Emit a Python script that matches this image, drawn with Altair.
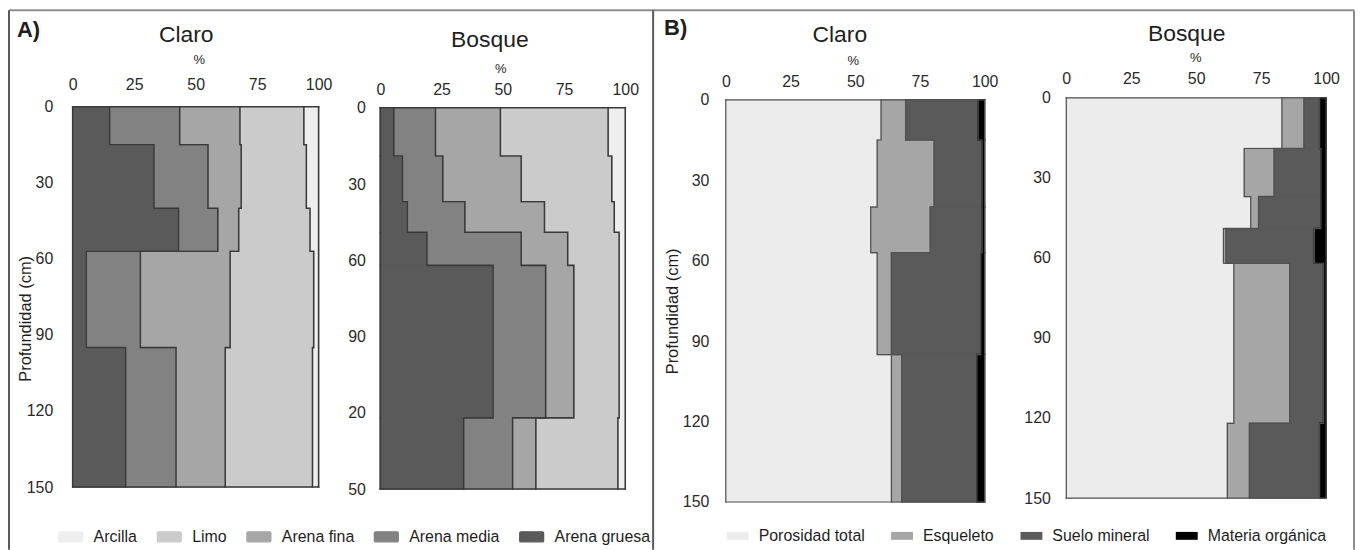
import altair as alt
import pandas as pd

FONT = "Liberation Sans"

# ---------------- A) granulometric fractions (%) ----------------
texture_comps = ["Arcilla", "Limo", "Arena fina", "Arena media", "Arena gruesa"]
texture_colors = ["#eeeeee", "#cbcbcb", "#a6a6a6", "#828282", "#5a5a5a"]

claro_depths_A = [0, 15, 40, 57, 95, 150]
claro_gruesa = [15, 33, 43, 5.5, 21.5]
claro_media = [28.5, 22, 16, 22, 20.5]
claro_fina = [24.5, 13.5, 8.5, 36.5, 20]
claro_limo = [26, 26.5, 29, 34, 35.5]
claro_arcilla = [6, 5, 3.5, 2, 2.5]

bosque_depths_A = [0, 19, 37, 49, 62, 122, 150]
bosque_gruesa = [5.5, 9, 11, 19, 46, 34]
bosque_media = [17, 16.5, 23.5, 38.5, 21.5, 20]
bosque_fina = [26.5, 32, 32.5, 19, 11.5, 9.5]
bosque_limo = [44, 37, 28.5, 21, 18.5, 33.5]
bosque_arcilla = [7, 5.5, 4.5, 2.5, 2.5, 3]

# ---------------- B) volumetric composition (%) ----------------
porosity_comps = ["Porosidad total", "Esqueleto", "Suelo mineral", "Materia orgánica"]
porosity_colors = ["#ececec", "#a6a6a6", "#5a5a5a", "#000000"]

claro_depths_B = [0, 15, 40, 57, 95, 150]
claro_poros = [60, 58.5, 56, 58.5, 64]
claro_esq = [9.5, 22, 23, 5.5, 4]
claro_suelo = [28, 18.5, 20, 34.5, 29]
claro_mo = [2.5, 1, 1, 1.5, 3]

bosque_depths_B = [0, 19, 37, 49, 62, 122, 150]
bosque_poros = [83, 68.5, 71, 60.5, 64.5, 62]
bosque_esq = [8.5, 11.5, 3, 1, 21.5, 8.5]
bosque_suelo = [6, 18, 24, 34, 13, 27]
bosque_mo = [2.5, 2, 2, 4.5, 1, 2.5]

x_ticks = [0, 25, 50, 75, 100]
y_ticks = [0, 30, 60, 90, 120, 150]
y_title = "Profundidad (cm)"
panel_letters = ["A)", "B)"]
site_titles = ["Claro", "Bosque"]
unit_label = "%"


def build_frames(depths, series):
    """Rect segments (one per component and horizon) and boundary step-lines."""
    n = len(depths) - 1
    rects, lines = [], []
    cum = [0.0] * n
    bounds = [list(cum)]
    for name, vals in series:
        nxt = [cum[i] + vals[i] for i in range(n)]
        for i in range(n):
            rects.append(dict(comp=name, x0=cum[i], x1=nxt[i], dtop=depths[i], dbot=depths[i + 1]))
        cum = nxt
        bounds.append(list(cum))
    for k, b in enumerate(bounds):
        for i in range(n):
            lines.append(dict(bid=f"b{k}", seq=2 * i, bx=b[i], depth=depths[i]))
            lines.append(dict(bid=f"b{k}", seq=2 * i + 1, bx=b[i], depth=depths[i + 1]))
    # top and bottom edges of the profile
    lines += [dict(bid="top", seq=0, bx=0, depth=depths[0]), dict(bid="top", seq=1, bx=100, depth=depths[0]),
              dict(bid="bot", seq=0, bx=0, depth=depths[-1]), dict(bid="bot", seq=1, bx=100, depth=depths[-1])]
    return pd.DataFrame(rects), pd.DataFrame(lines)


rA1, lA1 = build_frames(claro_depths_A, [("Arena gruesa", claro_gruesa), ("Arena media", claro_media),
                                         ("Arena fina", claro_fina), ("Limo", claro_limo), ("Arcilla", claro_arcilla)])
rA2, lA2 = build_frames(bosque_depths_A, [("Arena gruesa", bosque_gruesa), ("Arena media", bosque_media),
                                          ("Arena fina", bosque_fina), ("Limo", bosque_limo), ("Arcilla", bosque_arcilla)])
rB1, lB1 = build_frames(claro_depths_B, [("Porosidad total", claro_poros), ("Esqueleto", claro_esq),
                                         ("Suelo mineral", claro_suelo), ("Materia orgánica", claro_mo)])
rB2, lB2 = build_frames(bosque_depths_B, [("Porosidad total", bosque_poros), ("Esqueleto", bosque_esq),
                                          ("Suelo mineral", bosque_suelo), ("Materia orgánica", bosque_mo)])


def text_layer(label, x, y, size, weight="normal", align="center"):
    return alt.Chart(pd.DataFrame({"t": [label]})).mark_text(
        align=align, baseline="middle", fontSize=size, fontWeight=weight, font=FONT, color="#1e1e1e"
    ).encode(x=alt.value(x), y=alt.value(y), text="t:N")


def rule_layer(x, x2, y, y2, color, w):
    return alt.Chart(pd.DataFrame({"r": [0]})).mark_rule(color=color, strokeWidth=w).encode(
        x=alt.value(x), x2=alt.value(x2), y=alt.value(y), y2=alt.value(y2)
    )


def profile(rects, lines, comps, colors, xr, yr, x_pad, y_pad, stroke, sw, legend,
            title_pos=None, label_expr=None):
    xaxis = alt.Axis(orient="top", values=x_ticks, title=None, domain=False, ticks=False, tickSize=0,
                     labelPadding=x_pad, labelFlush=False, grid=False, labelFontSize=16)
    ykw = dict(values=y_ticks, domain=False, ticks=False, tickSize=0, labelPadding=y_pad,
               grid=False, labelFontSize=16, labelFlush=False)
    if title_pos is not None:
        ykw.update(title=y_title, titleX=title_pos[0], titleY=title_pos[1], titleAngle=270,
                   titleAlign="center", titleBaseline="middle", titleFontSize=16.5,
                   titleFontWeight="normal", titleColor="#1e1e1e")
    else:
        ykw.update(title=None)
    if label_expr is not None:
        ykw.update(labelExpr=label_expr)
    yaxis = alt.Axis(**ykw)
    xscale = alt.Scale(domain=[0, 100], range=xr, nice=False, zero=False)
    yscale = alt.Scale(domain=[0, 150], range=yr, nice=False, zero=False)
    cscale = alt.Scale(domain=comps, range=colors)
    color_kw = dict(scale=cscale)
    color_kw["legend"] = legend if legend is not None else None

    fill = alt.Chart(rects).mark_rect(strokeWidth=1.5).encode(
        x=alt.X("x0:Q", scale=xscale, axis=xaxis),
        x2="x1:Q",
        y=alt.Y("dtop:Q", scale=yscale, axis=yaxis),
        y2="dbot:Q",
        color=alt.Color("comp:N", **color_kw),
        stroke=alt.Stroke("comp:N", scale=cscale, legend=None),
    )
    edges = alt.Chart(lines).mark_line(color=stroke, strokeWidth=sw, strokeJoin="miter",
                                       strokeCap="square", interpolate="linear").encode(
        x=alt.X("bx:Q", scale=xscale, axis=xaxis),
        y=alt.Y("depth:Q", scale=yscale, axis=yaxis),
        detail="bid:N",
        order=alt.Order("seq:Q"),
    )
    return [fill, edges]


ROUNDED = ("M-0.9,-0.42H0.9Q1,-0.42 1,-0.32V0.32Q1,0.42 0.9,0.42H-0.9"
           "Q-1,0.42 -1,0.32V-0.32Q-1,-0.42 -0.9,-0.42Z")

legA = alt.Legend(orient="none", legendX=-15, legendY=426, direction="horizontal", columns=5, title=None,
                  symbolType=ROUNDED, symbolSize=576, symbolStrokeColor="#4a4a4a",
                  symbolStrokeWidth=1.3, labelFontSize=16, labelOffset=10, columnPadding=17,
                  labelColor="#1e1e1e", labelFont=FONT, symbolOpacity=1)
legB = alt.Legend(orient="none", legendX=1, legendY=427, direction="horizontal", columns=4, title=None,
                  symbolType="M-1,-0.36H1V0.36H-1Z", symbolSize=484, symbolStrokeWidth=0,
                  labelFontSize=16, labelOffset=10, columnPadding=26, labelColor="#1e1e1e",
                  labelFont=FONT, symbolOpacity=1)

H = 404
A_STROKE = "#3a3a3a"
B_STROKE = "#505050"

pA1 = alt.layer(
    rule_layer(-64, 1287, -90, -90, "#8c8c8c", 2),
    rule_layer(-64, -64, -90, 452, "#5a5a5a", 2),
    rule_layer(583, 583, -90, 452, "#5a5a5a", 2),
    rule_layer(1287, 1287, -90, 452, "#8c8c8c", 2),
    *profile(rA1, lA1, texture_comps, texture_colors, [0, 247], [7, 389], 7, 20, A_STROKE, 1.6, legA,
             title_pos=(-47.5, 219.5)),
    text_layer(panel_letters[0], -56, -70.5, 22, weight="bold", align="left"),
    text_layer(site_titles[0], 114, -65.5, 23),
    text_layer(unit_label, 127, -40, 13),
).properties(width=309, height=H)

pA2 = alt.layer(
    *profile(rA2, lA2, texture_comps, texture_colors, [0, 246], [8, 391], 2.5, 15, A_STROKE, 1.6, None,
             label_expr="datum.value == 120 ? '20' : datum.value == 150 ? '50' : datum.label"),
    text_layer(site_titles[1], 110, -60.5, 23),
    text_layer(unit_label, 121, -30.5, 13),
).properties(width=347, height=H)

pB1 = alt.layer(
    *profile(rB1, lB1, porosity_comps, porosity_colors, [0, 260], [0, 404], 10, 17, B_STROKE, 1.2, legB,
             title_pos=(-54, 212)),
    text_layer(panel_letters[1], -62, -72, 22, weight="bold", align="left"),
    text_layer(site_titles[0], 114.5, -65, 23),
    text_layer(unit_label, 128, -39, 13),
).properties(width=342, height=H)

pB2 = alt.layer(
    *profile(rB2, lB2, porosity_comps, porosity_colors, [0, 261], [-2, 400], 13.5, 16, B_STROKE, 1.2, None),
    text_layer(site_titles[1], 121, -66.5, 23),
    text_layer(unit_label, 130, -41.5, 13),
).properties(width=261, height=H)

chart = alt.hconcat(pA1, pA2, pB1, pB2, spacing=0, bounds="flush").resolve_scale(
    color="independent", stroke="independent"
).properties(
    padding={"left": 0, "top": 0, "right": 0, "bottom": 0}
).configure_view(stroke=None).configure_axis(
    labelFont=FONT, titleFont=FONT, labelColor="#2a2a2a"
).configure_legend(labelFont=FONT)

chart.save("out.html", embed_options={"renderer": "svg", "actions": False})
